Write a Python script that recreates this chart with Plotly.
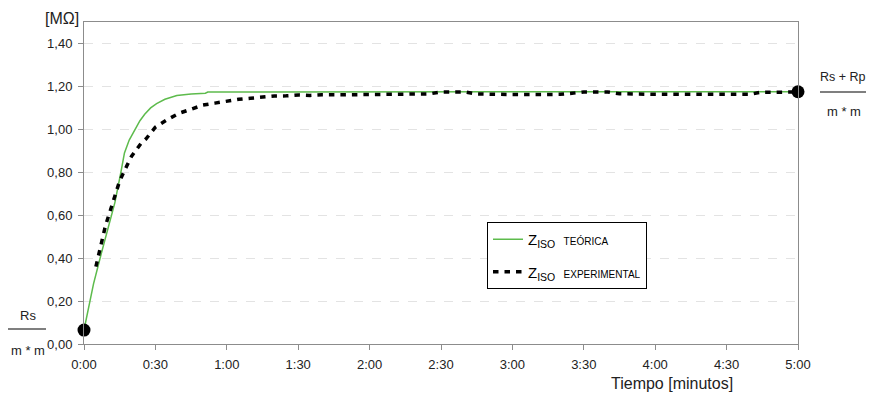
import plotly.graph_objects as go

# --- data (time in seconds, impedance in MOhm) ---
theo_t = [0, 4, 7, 10, 13, 15.5, 17, 19, 21, 23.5, 25.5, 28, 30.5, 34, 39, 45, 51, 52, 300]
theo_v = [0.065, 0.28, 0.41, 0.53, 0.66, 0.80, 0.89, 0.95, 0.99, 1.04, 1.07, 1.10, 1.12, 1.14,
          1.158, 1.165, 1.168, 1.174, 1.175]

exp_t = [5, 7, 9, 11, 13, 15, 18, 20, 24, 26, 30, 35, 40, 45, 50, 55, 60, 65, 70, 75, 80, 85,
         90, 95, 100, 110, 120, 130, 140, 145, 150, 160, 165, 170, 180, 190, 200, 205, 210, 220,
         225, 240, 260, 280, 284, 290, 300]
exp_v = [0.36, 0.45, 0.55, 0.62, 0.69, 0.76, 0.83, 0.875, 0.935, 0.955, 1.01, 1.045, 1.075,
         1.092, 1.113, 1.122, 1.132, 1.14, 1.145, 1.15, 1.155, 1.156, 1.16, 1.158, 1.161, 1.161,
         1.162, 1.163, 1.162, 1.165, 1.174, 1.174, 1.165, 1.163, 1.162, 1.162, 1.163, 1.168,
         1.174, 1.174, 1.166, 1.163, 1.162, 1.163, 1.172, 1.174, 1.174]

end_t = [0, 300]
end_v = [0.065, 1.175]

x_tickvals = [0, 30, 60, 90, 120, 150, 180, 210, 240, 270, 300]
x_ticktext = ["0:00", "0:30", "1:00", "1:30", "2:00", "2:30", "3:00", "3:30", "4:00", "4:30", "5:00"]
y_tickvals = [0, 0.2, 0.4, 0.6, 0.8, 1.0, 1.2, 1.4]

FONT = "Liberation Sans, Arial, sans-serif"
OFF = 8  # page body margin offset

fig = go.Figure()
fig.add_trace(go.Scatter(
    x=theo_t, y=theo_v, mode="lines",
    line=dict(color="#5DBB4C", width=1.5),
    name="Z<sub>ISO</sub>  <span style='font-size:10px'>TEÓRICA</span>",
    legendgroup="a",
))
fig.add_trace(go.Scatter(
    x=exp_t, y=exp_v, mode="lines",
    line=dict(color="black", width=3.5, dash="5.5px,6px"),
    name="Z<sub>ISO</sub>  <span style='font-size:10px'>EXPERIMENTAL</span>",
    legendgroup="b",
))
fig.add_trace(go.Scatter(
    x=end_t, y=end_v, mode="markers",
    marker=dict(color="black", size=13),
    showlegend=False, cliponaxis=False,
))

fig.update_layout(
    width=875 - OFF, height=396 - OFF,
    margin=dict(l=84 - OFF, r=77, t=22 - OFF, b=52),
    plot_bgcolor="white", paper_bgcolor="white",
    separators=",.",
    font=dict(family=FONT, size=13, color="#222"),
    showlegend=True,
    legend=dict(
        x=(487 - 84) / 714, y=(344 - 222) / 322, xanchor="left", yanchor="top",
        bordercolor="black", borderwidth=1, bgcolor="white",
        font=dict(family=FONT, size=15, color="black"),
        traceorder="grouped", tracegroupgap=10,
    ),
    xaxis=dict(
        range=[0, 300], tickvals=x_tickvals, ticktext=x_ticktext,
        showgrid=False, zeroline=False,
        showline=True, linecolor="#8c8c8c", linewidth=1, mirror=True,
        ticks="outside", ticklen=5, tickcolor="#8c8c8c", ticklabelstandoff=3,
        tickfont=dict(size=13, color="#222"),
    ),
    yaxis=dict(
        range=[0, 1.5], tickvals=y_tickvals, tickformat=".2f",
        showgrid=True, gridcolor="#e3e3e3", griddash="dash", gridwidth=1,
        zeroline=False,
        showline=True, linecolor="#8c8c8c", linewidth=1, mirror=True,
        ticks="outside", ticklen=5, tickcolor="#8c8c8c", ticklabelstandoff=3,
        tickfont=dict(size=13, color="#222"),
    ),
)

ann = [
    dict(text="Tiempo [minutos]", x=(672 - 84) / 714, y=(344 - 383) / 322, font=dict(size=16)),
    dict(text="[MΩ]", x=(62 - 84) / 714, y=(344 - 19) / 322, font=dict(size=16)),
    dict(text="Rs", x=(28 - 84) / 714, y=(344 - 315) / 322, font=dict(size=13)),
    dict(text="m * m", x=(28 - 84) / 714, y=(344 - 350) / 322, font=dict(size=13)),
    dict(text="Rs + Rp", x=(843 - 84) / 714, y=(344 - 77) / 322, font=dict(size=12.5)),
    dict(text="m * m", x=(844 - 84) / 714, y=(344 - 111) / 322, font=dict(size=13)),
]
for a in ann:
    fig.add_annotation(xref="paper", yref="paper", showarrow=False,
                       xanchor="center", yanchor="middle", **a)

fig.add_shape(type="line", xref="paper", yref="paper",
              x0=(8 - 84) / 714, x1=(46 - 84) / 714,
              y0=(344 - 329) / 322, y1=(344 - 329) / 322,
              line=dict(color="black", width=1.2))
fig.add_shape(type="line", xref="paper", yref="paper",
              x0=(820 - 84) / 714, x1=(866 - 84) / 714,
              y0=(344 - 92) / 322, y1=(344 - 92) / 322,
              line=dict(color="black", width=1.2))

fig.write_html("out.html")
